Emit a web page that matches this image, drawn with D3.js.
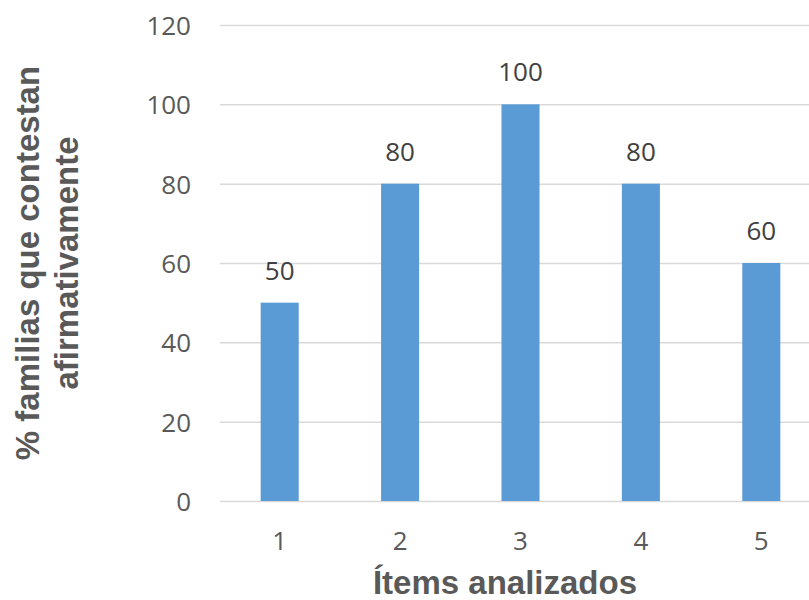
<!DOCTYPE html>
<html>
<head>
<meta charset="utf-8">
<script src="https://cdn.jsdelivr.net/npm/d3@7"></script>
<style>
  html, body { margin: 0; padding: 0; background: #fff; }
  svg { display: block; }
</style>
</head>
<body>
<svg id="chart" width="809" height="600"></svg>
<script>
const categories = ["1", "2", "3", "4", "5"];
const values = [50, 80, 100, 80, 60];
const yTicks = [0, 20, 40, 60, 80, 100, 120];
const xTitle = "Ítems analizados";
const yTitleLines = ["% familias que contestan", "afirmativamente"];

const svg = d3.select("#chart");
const W = 809, H = 600;

const x = d3.scaleBand()
  .domain(categories)
  .range([219.5, 821.5])
  .paddingInner(0.684)
  .paddingOuter(0.342);

const y = d3.scaleLinear()
  .domain([0, 120])
  .range([501, 25]);

// gridlines
const yAxisGrid = d3.axisLeft(y).tickValues(yTicks).tickSize(-(W - 220)).tickFormat("");
svg.append("g")
  .attr("transform", "translate(220,0)")
  .call(yAxisGrid)
  .call(g => g.select(".domain").remove())
  .call(g => g.selectAll("line").attr("stroke", "#d9d9d9").attr("stroke-width", 1.5));

// y tick labels
const yAxis = d3.axisLeft(y).tickValues(yTicks).tickSize(0).tickPadding(29);
svg.append("g")
  .attr("transform", "translate(220,0)")
  .call(yAxis)
  .call(g => g.select(".domain").remove())
  .call(g => g.selectAll("text")
    .attr("font-family", "'Open Sans', sans-serif")
    .attr("font-size", 26)
    .attr("fill", "#595959")
    .attr("dy", "0.36em"));

// bars
svg.append("g").selectAll("rect")
  .data(values)
  .join("rect")
  .attr("x", (d, i) => x(categories[i]))
  .attr("width", x.bandwidth())
  .attr("y", d => y(d))
  .attr("height", d => y(0) - y(d))
  .attr("fill", "#5b9bd5");

// value labels
svg.append("g").selectAll("text")
  .data(values)
  .join("text")
  .attr("x", (d, i) => x(categories[i]) + x.bandwidth() / 2)
  .attr("y", d => y(d) - 23)
  .attr("text-anchor", "middle")
  .attr("font-family", "'Open Sans', sans-serif")
  .attr("font-size", 26)
  .attr("fill", "#404040")
  .text(d => d);

// x axis labels
const xAxis = d3.axisBottom(x).tickSize(0).tickPadding(0);
svg.append("g")
  .attr("transform", "translate(0,501)")
  .call(xAxis)
  .call(g => g.select(".domain").remove())
  .call(g => g.selectAll("text")
    .attr("font-family", "'Open Sans', sans-serif")
    .attr("font-size", 26)
    .attr("fill", "#595959")
    .attr("dy", null)
    .attr("y", 49));

// x title
svg.append("text")
  .attr("x", 505)
  .attr("y", 594)
  .attr("text-anchor", "middle")
  .attr("font-family", "'Liberation Sans', Arial, sans-serif")
  .attr("font-weight", "bold")
  .attr("font-size", 33)
  .attr("fill", "#595959")
  .text(xTitle);

// y title
const yt = svg.append("text")
  .attr("transform", "translate(39,263) rotate(-90)")
  .attr("text-anchor", "middle")
  .attr("font-family", "'Liberation Sans', Arial, sans-serif")
  .attr("font-weight", "bold")
  .attr("font-size", 33)
  .attr("fill", "#595959");
yt.selectAll("tspan")
  .data(yTitleLines)
  .join("tspan")
  .attr("x", 0)
  .attr("y", (d, i) => i * 39)
  .text(d => d);
</script>
</body>
</html>
